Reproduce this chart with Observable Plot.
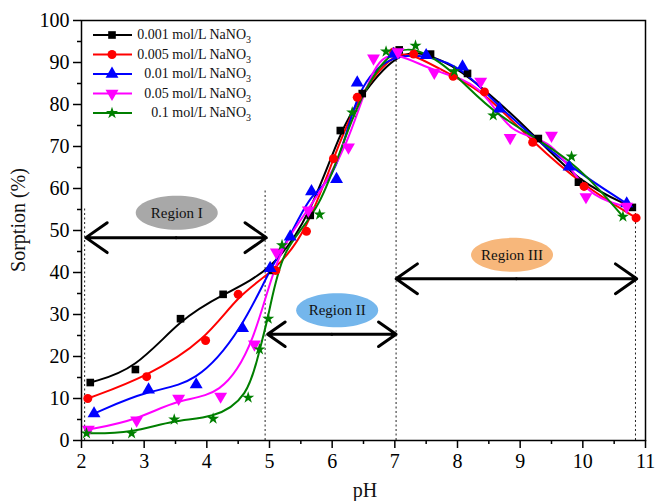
<!DOCTYPE html>
<html>
<head>
<meta charset="utf-8">
<script src="https://cdn.jsdelivr.net/npm/d3@7"></script>
<script src="https://cdn.jsdelivr.net/npm/@observablehq/plot@0.6"></script>
<style>
  body { margin: 0; background: #fff; }
  #wrap { position: relative; width: 655px; height: 501px; }
  #legend { position: absolute; left: 0; top: 0; }
</style>
</head>
<body>
<div id="wrap"></div>
<script>
// ---- Data ----
const seriesNames = ["0.001 mol/L NaNO3", "0.005 mol/L NaNO3", "0.01 mol/L NaNO3", "0.05 mol/L NaNO3", "0.1 mol/L NaNO3"];
const seriesConc = ["0.001", "0.005", "0.01", "0.05", "0.1"];
const seriesColors = ["#000000", "#ff0000", "#0000ff", "#ff00ff", "#007f00"];

const pH_0001 = [2.14, 2.86, 3.58, 4.26, 5.05, 5.65, 6.13, 6.48, 7.07, 7.57, 8.16, 9.29, 9.93, 10.79];
const sorp_0001 = [13.8, 16.9, 29.0, 34.8, 40.5, 53.6, 73.8, 82.6, 93.0, 92.0, 87.4, 71.9, 61.5, 55.5];

const pH_0005 = [2.10, 3.04, 3.98, 4.50, 5.10, 5.59, 6.02, 6.40, 6.98, 7.30, 7.93, 8.43, 9.20, 10.02, 10.85];
const sorp_0005 = [10.0, 15.2, 23.8, 34.8, 40.5, 49.8, 67.1, 81.7, 92.5, 92.0, 86.7, 83.0, 71.0, 60.5, 53.0];

const pH_001 = [2.20, 3.07, 3.83, 4.57, 5.01, 5.33, 5.67, 6.07, 6.40, 6.98, 7.50, 8.08, 8.67, 9.78, 10.70];
const sorp_001 = [6.4, 12.1, 13.3, 26.7, 41.0, 48.5, 59.3, 62.2, 85.2, 92.0, 91.7, 89.0, 79.0, 65.2, 56.4];

const pH_005 = [2.11, 2.88, 3.55, 4.22, 4.76, 5.11, 5.62, 6.26, 6.66, 7.05, 7.63, 8.37, 8.84, 9.50, 10.05, 10.70];
const sorp_005 = [2.6, 4.8, 10.0, 10.5, 22.9, 44.8, 54.8, 69.8, 91.0, 92.5, 87.6, 85.5, 72.1, 72.6, 58.0, 55.7];

const pH_01 = [2.08, 2.80, 3.48, 4.10, 4.66, 4.84, 4.98, 5.20, 5.80, 6.32, 6.86, 7.33, 7.95, 8.57, 9.82, 10.64];
const sorp_01 = [1.7, 1.7, 5.0, 5.2, 10.2, 21.7, 29.0, 46.5, 53.8, 78.1, 92.6, 94.0, 87.9, 77.4, 67.6, 53.3];

const xTicks = [2, 3, 4, 5, 6, 7, 8, 9, 10, 11];
const yTicks = [0, 10, 20, 30, 40, 50, 60, 70, 80, 90, 100];
const xLabel = "pH";
const yLabel = "Sorption (%)";

// region annotations (data coordinates)
const regionNames = ["Region I", "Region II", "Region III"];
const regionFrom = [2.07, 4.97, 7.02];
const regionTo = [4.95, 7.02, 10.86];
const regionArrowY = [48.3, 25.3, 38.5];
const regionLabelX = [3.52, 6.08, 8.87];
const regionLabelY = [54.2, 31.0, 44.2];
const regionFill = ["#a8a8a8", "#74b6ec", "#f7b77b"];
const boundaryX = [2.05, 4.93, 7.02, 10.84];
const boundaryTop = [55.2, 60.0, 93.0, 56.0];

// ---- Build tables ----
const xs = [pH_0001, pH_0005, pH_001, pH_005, pH_01];
const ys = [sorp_0001, sorp_0005, sorp_001, sorp_005, sorp_01];
const seriesData = xs.map((xa, i) => xa.map((x, j) => ({series: seriesConc[i], x, y: ys[i][j]})));

const regions = regionNames.map((name, i) => ({
  name, from: regionFrom[i], to: regionTo[i], y: regionArrowY[i],
  mid: (regionFrom[i] + regionTo[i]) / 2, lx: regionLabelX[i], ly: regionLabelY[i], fill: regionFill[i]
}));
const bounds = boundaryX.map((x, i) => ({x, top: boundaryTop[i]}));

// ---- custom symbols ----
const triangleDown = {
  draw(context, size) {
    const y = -Math.sqrt(size / (Math.sqrt(3) * 3));
    context.moveTo(0, -y * 2);
    context.lineTo(-Math.sqrt(3) * y, y);
    context.lineTo(Math.sqrt(3) * y, y);
    context.closePath();
  }
};
const ellipse = {
  draw(context) {
    const rx = 41, ry = 17, k = 0.5523;
    context.moveTo(rx, 0);
    context.bezierCurveTo(rx, ry * k, rx * k, ry, 0, ry);
    context.bezierCurveTo(-rx * k, ry, -rx, ry * k, -rx, 0);
    context.bezierCurveTo(-rx, -ry * k, -rx * k, -ry, 0, -ry);
    context.bezierCurveTo(rx * k, -ry, rx, -ry * k, rx, 0);
    context.closePath();
  }
};
const symbols = ["square", "circle", "triangle", triangleDown, "star"];
const radii = [4.3, 4.5, 4.8, 4.8, 3.8];

const serif = "'Liberation Serif', 'Times New Roman', serif";

const plot = Plot.plot({
  width: 655,
  height: 501,
  marginLeft: 81,
  marginRight: 10,
  marginTop: 20,
  marginBottom: 61,
  style: {fontFamily: serif, fontSize: "20px", color: "#000", background: "#fff"},
  x: {domain: [2, 11]},
  y: {domain: [0, 100]},
  marks: [
    Plot.ruleX(bounds, {x: "x", y1: 0, y2: "top", stroke: "#222", strokeWidth: 1, strokeDasharray: "2,2.5"}),
    Plot.dot(regions, {x: "lx", y: "ly", symbol: ellipse, r: 1, fill: "fill", stroke: "none"}),
    Plot.text(regions, {x: "lx", y: "ly", text: "name", fontSize: 15, fontFamily: serif, fill: "#111"}),
    Plot.arrow(regions, {x1: "mid", x2: "from", y1: "y", y2: "y", stroke: "#000", strokeWidth: 3, headLength: 13, headAngle: 70}),
    Plot.arrow(regions, {x1: "mid", x2: "to", y1: "y", y2: "y", stroke: "#000", strokeWidth: 3, headLength: 13, headAngle: 70}),
    ...seriesData.map((d, i) => Plot.line(d, {x: "x", y: "y", stroke: seriesColors[i], strokeWidth: 2, curve: "basis"})),
    ...seriesData.map((d, i) => Plot.dot(d, {x: "x", y: "y", fill: seriesColors[i], stroke: "none", symbol: symbols[i], r: radii[i]})),
    Plot.frame({stroke: "#000", strokeWidth: 1.5}),
    Plot.axisX({ticks: xTicks, tickSize: 8, tickPadding: 5, label: null, strokeWidth: 1.5}),
    Plot.axisX({ticks: d3.range(2.5, 11, 1), tickSize: 4, text: null, label: null, strokeWidth: 1.5}),
    Plot.axisY({ticks: yTicks, tickSize: 8, tickPadding: 4, label: null, strokeWidth: 1.5}),
    Plot.axisY({ticks: d3.range(5, 100, 10), tickSize: 4, text: null, label: null, strokeWidth: 1.5})
  ]
});

const wrap = document.getElementById("wrap");
wrap.appendChild(plot);

// ---- Axis titles & legend overlay ----
const lg = d3.select(wrap).append("svg").attr("id", "legend")
  .attr("width", 655).attr("height", 501)
  .style("pointer-events", "none");

lg.append("text").attr("x", 365).attr("y", 497).attr("text-anchor", "middle")
  .attr("font-family", serif).attr("font-size", 20).attr("fill", "#111").text(xLabel);
lg.append("text").attr("transform", "translate(25,220) rotate(-90)").attr("text-anchor", "middle")
  .attr("font-family", serif).attr("font-size", 20).attr("fill", "#111").text(yLabel);

const legendRows = [35, 54.5, 74, 93.5, 113];
seriesNames.forEach((name, i) => {
  const g = lg.append("g").attr("transform", `translate(0,${legendRows[i]})`);
  g.append("line").attr("x1", 93).attr("x2", 132).attr("y1", 0).attr("y2", 0)
    .attr("stroke", seriesColors[i]).attr("stroke-width", 2);
  const sym = typeof symbols[i] === "string"
    ? {square: d3.symbolSquare, circle: d3.symbolCircle, triangle: d3.symbolTriangle, star: d3.symbolStar}[symbols[i]]
    : symbols[i];
  g.append("path").attr("transform", "translate(112,0)")
    .attr("d", d3.symbol(sym, Math.PI * radii[i] * radii[i])())
    .attr("fill", seriesColors[i]);
  const t = g.append("text").attr("x", 251).attr("y", 0).attr("dy", "0.32em")
    .attr("text-anchor", "end").attr("font-family", serif).attr("font-size", 14).attr("fill", "#111");
  t.append("tspan").text(name.slice(0, -1));
  t.append("tspan").attr("dy", 4).attr("font-size", 10).text(name.slice(-1));
});
</script>
</body>
</html>
